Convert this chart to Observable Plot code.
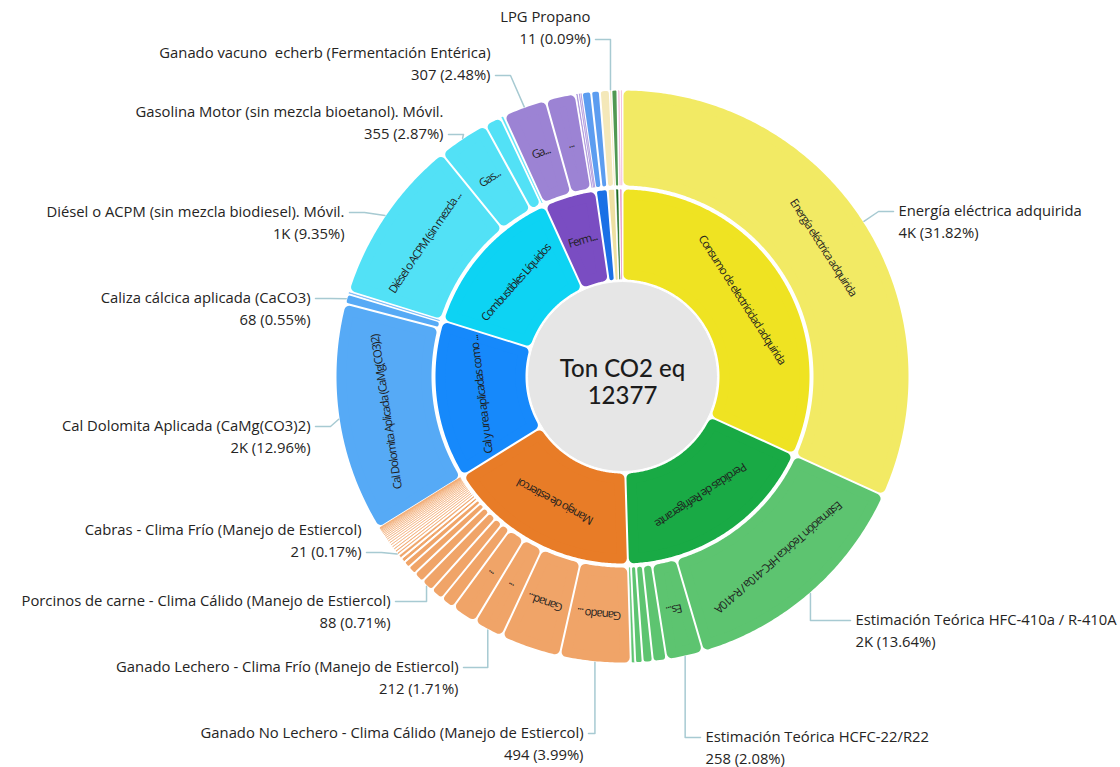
<!DOCTYPE html>
<html><head><meta charset="utf-8">
<script src="https://cdn.jsdelivr.net/npm/d3@7"></script>
<script src="https://cdn.jsdelivr.net/npm/@observablehq/plot@0.6"></script>
<style>
body{margin:0;background:#fff;}
#chart{width:1120px;height:767px;overflow:hidden;}
#chart svg text{white-space:pre;}
</style></head><body><div id="chart"></div>
<script>
// ---------------- DATA ----------------
const TOTAL_LABEL = "Ton CO2 eq";
const categories = [
  "Consumo de electricidad adquirida",
  "Perdidas de Refrigerante",
  "Manejo de estiercol",
  "Cal y urea aplicadas como fertilizante",
  "Combustibles Líquidos",
  "Fermentación Entérica",
  "Lubricantes",
  "Combustibles Gaseosos",
  "Extintores",
  "Residuos"
];
const leafParents = [
  0,
  1,1,1,1,1,1,
  2,2,2,2,2,2,2,2,2,2,2,2,2, 2,2,2,2,2,2,2,2,2,2,2,2,2,2,2,2,2,2,
  3,3,3,
  4,4,4,4,
  5,5,5,5,5,
  6,6,
  7,7,
  8,
  9,9
];
const leafNames = [
  "Energía eléctrica adquirida",
  "Estimación Teórica HFC-410a / R-410A","Estimación Teórica HCFC-22/R22","Estimación Teórica HFC-134a","Estimación Teórica R-404A","Estimación Teórica R-407C","Estimación Teórica R-507A",
  "Ganado No Lechero - Clima Cálido (Manejo de Estiercol)","Ganado Lechero - Clima Cálido (Manejo de Estiercol)","Ganado Lechero - Clima Frío (Manejo de Estiercol)","Ganado No Lechero - Clima Frío (Manejo de Estiercol)","Ganado No Lechero - Clima Templado (Manejo de Estiercol)","Ganado Lechero - Clima Templado (Manejo de Estiercol)","Porcinos de carne - Clima Cálido (Manejo de Estiercol)","Porcinos de cría - Clima Cálido (Manejo de Estiercol)","Aves de corral - Clima Cálido (Manejo de Estiercol)","Equinos - Clima Cálido (Manejo de Estiercol)","Porcinos de carne - Clima Frío (Manejo de Estiercol)","Ovinos - Clima Cálido (Manejo de Estiercol)","Cabras - Clima Frío (Manejo de Estiercol)",
  "Cabras - Clima Cálido (Manejo de Estiercol)","Ovinos - Clima Frío (Manejo de Estiercol)","Equinos - Clima Frío (Manejo de Estiercol)","Aves de corral - Clima Frío (Manejo de Estiercol)","Porcinos de cría - Clima Frío (Manejo de Estiercol)","Mulas - Clima Cálido (Manejo de Estiercol)","Asnos - Clima Cálido (Manejo de Estiercol)","Búfalos - Clima Cálido (Manejo de Estiercol)","Mulas - Clima Frío (Manejo de Estiercol)","Asnos - Clima Frío (Manejo de Estiercol)","Búfalos - Clima Frío (Manejo de Estiercol)","Conejos - Clima Cálido (Manejo de Estiercol)","Conejos - Clima Frío (Manejo de Estiercol)","Cabras - Clima Templado (Manejo de Estiercol)","Ovinos - Clima Templado (Manejo de Estiercol)","Equinos - Clima Templado (Manejo de Estiercol)","Aves de corral - Clima Templado (Manejo de Estiercol)","Porcinos de carne - Clima Templado (Manejo de Estiercol)",
  "Cal Dolomita Aplicada (CaMg(CO3)2)","Caliza cálcica aplicada (CaCO3)","Urea aplicada",
  "Diésel o ACPM (sin mezcla biodiesel). Móvil.","Gasolina Motor (sin mezcla bioetanol). Móvil.","Diésel o ACPM (sin mezcla biodiesel). Estacionaria.","Queroseno. Estacionaria.",
  "Ganado vacuno  echerb (Fermentación Entérica)","Ganado lechero (Fermentación Entérica)","Ovinos (Fermentación Entérica)","Caprinos (Fermentación Entérica)","Equinos (Fermentación Entérica)",
  "Aceite lubricante","Grasa lubricante",
  "Gas Natural. Estacionaria.","LPG Propano",
  "Extintores CO2",
  "Compostaje","Aguas residuales"
];
const leafValues = [
  3938,
  1688,258,95,70,52,30,
  494,420,212,180,98,90,88,75,60,45,35,30,21,
  20,19,18,17,16,15,14,13,12,11,10,9,8,7,6,5,4,3,
  1604,68,20,
  1157,355,120,25,
  307,210,20,13,10,
  65,60,
  69,11,
  42,
  20,15
];
// leaves with an outside callout
const calloutNames = [
  "Energía eléctrica adquirida",
  "Estimación Teórica HFC-410a / R-410A",
  "Estimación Teórica HCFC-22/R22",
  "Ganado No Lechero - Clima Cálido (Manejo de Estiercol)",
  "Ganado Lechero - Clima Frío (Manejo de Estiercol)",
  "Porcinos de carne - Clima Cálido (Manejo de Estiercol)",
  "Cabras - Clima Frío (Manejo de Estiercol)",
  "Cal Dolomita Aplicada (CaMg(CO3)2)",
  "Caliza cálcica aplicada (CaCO3)",
  "Diésel o ACPM (sin mezcla biodiesel). Móvil.",
  "Gasolina Motor (sin mezcla bioetanol). Móvil.",
  "Ganado vacuno  echerb (Fermentación Entérica)",
  "LPG Propano"
];

// ---------------- STYLE / LAYOUT ----------------
const innerColors = ["#efe322","#19aa45","#e87c27","#1689fb","#0dd3f3","#7a4dc2","#1a70e6","#eee0a2","#1d6b1f","#e58fc2"];
const outerColors = ["#f2ea64","#5dc470","#f0a468","#56aaf6","#52e1f6","#9c83d4","#5c9df0","#f4e8b9","#519852","#f0aed3"];
const W = 1120, H = 767, CX = 622, CY = 376;
const RADII = [[0, 95], [97, 187], [191, 286]];
const PAD = 1, CORNER = 5;
// callout text placement: [side, textX, textY(first line), attachLine, bend]
const calloutLayout = [
  ["R", 898, 211, 0, "h"],
  ["R", 855, 620, 0, "v"],
  ["R", 705, 737, 0, "v"],
  ["L", 583, 733, 0, "v"],
  ["L", 458, 667, 0, "v"],
  ["L", 390, 601, 0, "v"],
  ["L", 361, 530, 1, "h"],
  ["L", 310, 426, 0, "h"],
  ["L", 310, 298, 0, "h"],
  ["L", 344, 212, 0, "h"],
  ["L", 443, 112, 1, "h"],
  ["L", 490, 53, 1, "h"],
  ["L", 590, 17, 1, "v"]
];

// ---------------- HIERARCHY ----------------
const hdata = {name: TOTAL_LABEL, children: categories.map((c, i) => ({
  name: c, ci: i,
  children: leafNames.map((n, j) => ({name: n, value: leafValues[j], p: leafParents[j]})).filter(l => l.p === i)
}))};
const root = d3.hierarchy(hdata).sum(d => d.children ? 0 : d.value).sort((a, b) => b.value - a.value);
d3.partition().size([360, 1])(root);
const total = root.value;
const nodes = root.descendants().filter(d => d.depth > 0);
const colorOf = d => d.depth === 1 ? innerColors[d.data.ci] : outerColors[d.parent.data.ci];
const rad = a => a * Math.PI / 180;

// slice outlines (inset, then stroked with round joins -> rounded corners)
const slicePts = [];
nodes.forEach((d, k) => {
  const [r0, r1] = RADII[d.depth];
  const a0 = rad(d.x0), a1 = rad(d.x1);
  const c = Math.max(0.25, Math.min(CORNER, (a1 - a0) * r0 / 2 - PAD - 0.2, (r1 - r0) / 2 - 1));
  const ri = r0 + c, ro = r1 - c;
  const ring = [];
  const arc = (rho, rev) => {
    const o = Math.asin(Math.min(1, (PAD + c) / rho));
    let s = a0 + o, e = a1 - o;
    if (s > e) { s = e = (a0 + a1) / 2; }
    const n = Math.max(2, Math.ceil((e - s) / rad(0.5)) + 1);
    const ts = d3.range(n).map(i => s + (e - s) * i / (n - 1));
    if (rev) ts.reverse();
    for (const t of ts) ring.push([rho * Math.sin(t), -rho * Math.cos(t)]);
  };
  arc(ro, false); arc(ri, true); ring.push(ring[0]);
  const color = colorOf(d);
  ring.forEach(([x, y]) => slicePts.push({id: k, x, y, color, sw: 2 * c}));
});

// label fitting
const EM = {a:.556,b:.613,c:.48,d:.613,e:.561,f:.336,g:.546,h:.614,i:.258,j:.258,k:.52,l:.258,m:.932,n:.614,o:.603,p:.613,q:.613,r:.409,s:.477,t:.352,u:.614,v:.5,w:.77,x:.51,y:.5,z:.468,
  A:.633,B:.647,C:.631,D:.729,E:.556,F:.524,G:.726,H:.738,I:.279,J:.267,K:.614,L:.519,M:.903,N:.754,O:.779,P:.601,Q:.779,R:.618,S:.549,T:.553,U:.729,V:.582,W:.899,X:.577,Y:.559,Z:.561,
  " ":.26,".":.266,"(":.296,")":.296,"-":.322,"/":.371};
const charEm = ch => { const b = ch.normalize("NFD")[0]; return b in EM ? EM[b] : (/[0-9]/.test(b) ? .572 : .55); };
const textW = s => [...s].reduce((w, ch) => w + charEm(ch) * 8.8, 0);
function fit(name, avail) {
  if (textW(name) <= avail) return name;
  for (let n = name.length - 1; n >= 0; n--) {
    const t = name.slice(0, n) + "...";
    if (textW(t) <= avail) return t;
  }
  return "";
}
const sliceLabels = nodes.map(d => {
  const [r0, r1] = RADII[d.depth];
  const rm = (r0 + r1) / 2, am = (d.x0 + d.x1) / 2;
  const arcLen = rad(d.x1 - d.x0) * rm;
  const avail = d.depth === 2 ? arcLen * 0.92 - 11.8 : arcLen * 1.03 - 9;
  return {x: rm * Math.sin(rad(am)), y: -rm * Math.cos(rad(am)), rotate: am, text: fit(d.data.name, avail)};
}).filter(d => d.text);

// callouts
const fmtVal = v => v >= 1000 ? Math.round(v / 1000) + "K" : String(v);
const callouts = calloutNames.map((name, i) => {
  const d = nodes.find(n => n.depth === 2 && n.data.name === name);
  const [side, tx, ty, att, bend] = calloutLayout[i];
  return {name, side, tx: tx - CX, ty: ty - CY, att, bend, node: d,
    line2: `${fmtVal(d.value)} (${(d.value / total * 100).toFixed(2)}%)`};
});
const calloutPts = [];
callouts.forEach(c => {
  const am = rad((c.node.x0 + c.node.x1) / 2), R = RADII[2][1] + 1;
  const p0 = [R * Math.sin(am), -R * Math.cos(am)];
  const sgn = c.side === "L" ? 1 : -1;
  const p2 = [c.tx + sgn * 5, c.ty + c.att * 22];
  const p1 = c.bend === "v" ? [p0[0], p2[1]] : [p2[0] + sgn * 15, p2[1]];
  [p0, p1, p2].forEach(p => calloutPts.push({name: c.name, x: p[0], y: p[1]}));
});

// ---------------- PLOT ----------------
const FONT = "'Open Sans', 'Noto Sans', sans-serif";
const LABEL_SIZE = 14.8;
const chart = Plot.plot({
  width: W, height: H, margin: 0,
  style: {fontFamily: FONT, background: "#fff"},
  x: {domain: [-CX, W - CX], range: [0, W], axis: null},
  y: {domain: [-CY, H - CY], range: [0, H], axis: null},
  color: {type: "identity"},
  marks: [
    Plot.line(slicePts, {x: "x", y: "y", z: "id", fill: "color", stroke: "color", strokeWidth: "sw", strokeLinejoin: "round", strokeLinecap: "round", curve: "linear"}),
    Plot.dot([root], {x: () => 0, y: () => 0, r: RADII[0][1], fill: "#e6e6e6", stroke: "#fff", strokeWidth: 1}),
    Plot.text([root], {x: () => 0, y: () => 0, text: () => TOTAL_LABEL, dy: -7, fontSize: 24, fill: "#1c1c1c", fontFamily: "Lato, sans-serif", fontWeight: 500}),
    Plot.text([root], {x: () => 0, y: () => 0, text: d => String(d.value), dy: 20, fontSize: 24, fill: "#1c1c1c", fontFamily: "Lato, sans-serif", fontWeight: 500}),
    Plot.text(sliceLabels, {x: "x", y: "y", text: "text", rotate: "rotate", fontSize: 11.5, fill: "#1e1e1e", textAnchor: "middle", lineAnchor: "middle"}),
    Plot.line(calloutPts, {x: "x", y: "y", z: "name", stroke: "#a7cad2", strokeWidth: 1.5, curve: "linear"}),
    Plot.text(callouts.filter(c => c.side === "L"), {x: "tx", y: "ty", text: "name", textAnchor: "end", lineAnchor: "middle", fontSize: LABEL_SIZE, fill: "#252423"}),
    Plot.text(callouts.filter(c => c.side === "L"), {x: "tx", y: "ty", text: "line2", dy: 22, textAnchor: "end", lineAnchor: "middle", fontSize: LABEL_SIZE, fill: "#252423"}),
    Plot.text(callouts.filter(c => c.side === "R"), {x: "tx", y: "ty", text: "name", textAnchor: "start", lineAnchor: "middle", fontSize: LABEL_SIZE, fill: "#252423"}),
    Plot.text(callouts.filter(c => c.side === "R"), {x: "tx", y: "ty", text: "line2", dy: 22, textAnchor: "start", lineAnchor: "middle", fontSize: LABEL_SIZE, fill: "#252423"})
  ]
});
document.getElementById("chart").appendChild(chart);
const textGroups = chart.querySelectorAll('g[aria-label="text"]');
if (textGroups[2]) textGroups[2].style.letterSpacing = "-1.1px";
</script>
</body></html>
